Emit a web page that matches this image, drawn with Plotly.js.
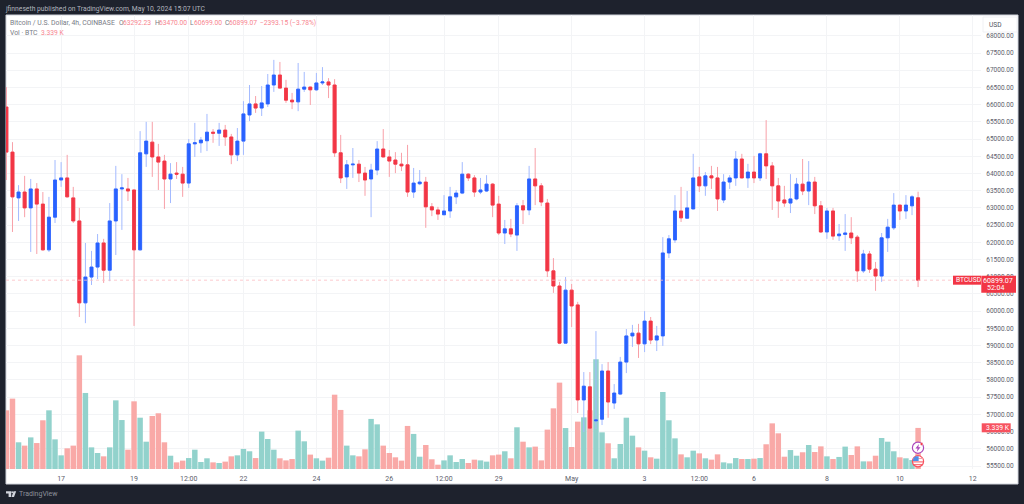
<!DOCTYPE html>
<html>
<head>
<meta charset="utf-8">
<script src="https://cdn.plot.ly/plotly-3.0.1.min.js"></script>
<style>html,body{margin:0;padding:0;background:#1e222d;overflow:hidden}#chart{width:1024px;height:504px}</style>
</head>
<body>
<div id="chart"></div>
<script>
var firstBar = '2024-04-15T12:00:00Z';
var barHours = 4;
var opens = [65930,64620,63290,63460,63000,63550,63110,61780,62730,63810,63870,63290,62620,60240,60990,61280,61980,61190,62620,63550,63550,63520,61780,64570,64910,64480,64360,63840,64010,63980,63720,64860,64890,64950,65200,65170,65260,65060,64540,64940,65700,66020,65900,66020,66570,66860,66480,66130,66080,66450,66510,66430,66630,66660,66570,64600,63900,64250,64270,64010,63840,64100,64710,64480,64390,64270,64250,63460,63700,63750,63030,62940,62800,62910,63320,63430,63980,63870,63460,63490,63690,63110,62270,62390,62210,63060,62940,63840,63640,63140,61170,60730,59070,60610,60180,57420,57800,56810,56860,58260,57330,57590,58520,59280,59360,59050,59710,59160,59280,61690,62070,62910,62700,62970,63900,63640,63930,63870,63230,63750,63870,64420,63870,64040,63870,64570,64220,63640,63230,63140,63260,63690,63490,63750,63060,62300,62910,62190,62230,62270,62150,61170,61660,61220,61020,62130,62420,63080,62910,63060,63292.23];
var highs = [66510,64910,63660,63930,63840,63720,63460,63320,64390,64330,64540,63610,63000,61980,61750,62240,62100,63140,64220,63980,63870,63530,65230,65500,65500,64860,64540,64300,64330,64190,65000,65470,65060,65730,65290,65470,65410,65150,65320,66100,66570,66250,66540,66890,67300,67240,66720,66340,67210,66950,66520,66920,67090,66770,66740,65120,64390,64740,64390,64190,64280,64940,65290,64680,64620,64600,64830,64160,64100,63900,63140,63030,63370,63610,63520,64330,64010,63950,63870,63950,63720,63350,62650,62680,63140,63230,64220,64740,63720,63260,61540,60850,60990,60790,60270,58230,58230,59420,58460,58520,57880,58670,59480,59600,59630,60000,59830,59570,62150,62210,63370,63610,63490,64570,64190,64040,64220,64190,63980,63950,64650,64570,64280,64510,64600,65550,64330,63870,63640,63980,63870,64420,64360,63900,63200,63000,63000,62530,62820,62730,62210,61780,61750,61430,62270,62680,63430,63090,63370,63370,63470];
var lows = [63810,62300,62620,62730,61720,61660,61760,61720,62560,63610,63300,62560,59830,59650,60760,60930,60820,60870,61630,62360,63200,59570,61760,64190,63900,63520,62970,63140,63840,63320,63580,64480,64600,64650,64890,64800,64800,64270,64360,64540,65520,65760,65670,65930,66370,66470,66050,65870,65810,66370,65990,66400,66570,66190,64480,63720,63550,63870,63750,63350,62730,63950,64470,63900,64010,64070,63320,63290,63660,62420,62760,62650,62790,62710,63110,63400,63780,63320,63400,63460,62730,62210,61950,62150,61750,62530,62790,63080,63050,60990,60530,59040,59060,59540,57040,56490,56570,56570,56690,56900,57160,57560,58200,58960,58640,58810,59040,58840,58990,61540,61980,62590,62690,62960,63460,63350,63550,62910,63140,63550,63640,63860,63580,63720,63780,63840,62940,62710,63030,62850,63220,63370,63080,62820,62270,62100,62070,62040,61750,61950,60850,61110,61110,60590,60850,61720,62360,62650,62680,62790,60699];
var closes = [64620,63320,63460,63000,63550,63110,61780,62730,63810,63870,63320,62620,60240,60990,61280,61980,61190,62620,63550,63580,63490,61780,64600,64940,64480,64330,63840,63980,63980,63720,64860,64890,64970,65200,65170,65260,65060,64540,64940,65730,66020,65900,66050,66570,66860,66480,66130,66080,66450,66510,66430,66630,66660,66570,64600,63870,64250,64270,64010,63810,64100,64710,64480,64360,64270,64220,63460,63720,63750,63030,62940,62820,62910,63320,63430,63980,63870,63460,63520,63690,63080,62270,62390,62240,63060,62940,63840,63640,63170,61170,60730,59070,60610,60150,57420,57820,56600,56840,58260,57360,57620,58520,59280,59360,59050,59710,59160,59280,61690,62100,62910,62710,63000,63870,63640,63930,63870,63260,63750,63870,64420,63870,64040,63870,64570,64220,63640,63200,63140,63260,63690,63490,63750,63060,62300,62910,62180,62240,62270,62130,61170,61660,61220,61020,62130,62440,63080,62910,63080,63320,60899.07];
var volumesK = [4.77,5.72,2.17,1.90,2.57,2.11,3.96,4.77,2.41,1.11,1.68,1.90,9.24,6.18,1.76,1.30,1.03,1.76,5.58,3.98,1.57,5.50,4.17,2.22,4.31,4.53,2.17,1.08,0.54,0.68,0.89,1.57,0.57,0.87,0.54,0.49,0.60,1.03,1.11,1.63,1.44,0.89,3.04,2.44,1.57,0.87,0.70,0.81,3.12,2.25,1.17,0.87,0.68,0.92,6.04,4.80,1.90,1.11,1.03,1.60,4.07,3.63,1.90,1.30,0.95,0.68,3.50,2.85,1.00,1.95,0.79,0.35,0.70,1.11,0.57,0.81,0.49,0.76,0.70,0.60,1.11,1.17,1.44,0.87,3.39,2.22,1.76,1.82,0.70,3.20,4.93,7.02,3.33,1.79,3.85,4.20,4.77,8.92,2.98,2.09,0.87,2.03,4.17,2.71,1.76,1.49,0.95,0.84,6.26,3.96,2.49,1.19,0.95,1.49,1.27,0.87,0.76,1.19,0.54,0.46,0.89,0.81,0.81,0.84,0.89,2.01,3.71,2.90,1.00,1.54,1.08,1.36,1.95,1.38,1.84,1.03,0.81,0.98,1.82,1.14,1.84,0.62,0.62,1.08,2.52,2.22,1.44,0.95,0.87,0.73,3.339];
var timeTickDates = ['2024-04-17','2024-04-19','2024-04-20T12:00:00','2024-04-22','2024-04-24','2024-04-26','2024-04-27T12:00:00','2024-04-29','2024-05-01','2024-05-03','2024-05-04T12:00:00','2024-05-06','2024-05-08','2024-05-10','2024-05-12'];
var timeTickLabels = ['17','19','12:00','22','24','26','12:00','29','May','3','12:00','6','8','10','12'];
var priceTicks = [55500,56000,56500,57000,57500,58000,58500,59000,59500,60000,60500,61000,61500,62000,62500,63000,63500,64000,64500,65000,65500,66000,66500,67000,67500,68000];
var headerText = 'jfinneseth published on TradingView.com, May 10, 2024 15:07 UTC';
var symbolText = 'Bitcoin / U.S. Dollar, 4h, COINBASE';
var ohlcKeys = ['O', 'H', 'L', 'C'];
var ohlcValues = ['63292.23', '63470.00', '60699.00', '60899.07'];
var changeText = '−2393.15 (−3.78%)';
var volumeName = 'Vol · BTC';
var lastPrice = '60899.07', countdown = '52:04', lastVol = '3.339 K', symbolTag = 'BTCUSD';

var RED = '#f23645', BLUE = '#2962ff', TEAL = '#92d2cc', SALMON = '#f9a9a7';
var WICK_RED = '#f8a0a8', WICK_BLUE = '#a3baff', GREY = '#787b86', SOFT = '#f7858f', AXIS = '#5d606b';

var dates = opens.map(function (_, i) {
  return new Date(Date.parse(firstBar) + i * barHours * 3600000).toISOString().slice(0, 19);
});
var rising = opens.map(function (o, i) { return closes[i] >= o; });
var bodyHigh = opens.map(function (o, i) { return Math.max(o, closes[i]); });
var bodyLow = opens.map(function (o, i) { return Math.min(o, closes[i]); });

var L = 6, R = 981, T = 15, B = 469;
function px(x) { return (x - L) / (R - L); }
function py(y) { return (B - y) / (B - T); }
function rect(x0, y0, x1, y1, fill, line, layer) {
  return {type: 'rect', xref: 'paper', yref: 'paper', x0: px(x0), x1: px(x1), y0: py(y0), y1: py(y1),
          fillcolor: fill, line: line || {width: 0}, layer: layer || 'below'};
}
function pathAt(d, fill) {
  var s = d.replace(/(-?[\d.]+),(-?[\d.]+)/g, function (m, a, b) { return px(+a).toFixed(5) + ',' + py(+b).toFixed(5); });
  return {type: 'path', xref: 'paper', yref: 'paper', path: s, fillcolor: fill, line: {width: 0}, layer: 'above'};
}
function circle(cx, cy, r, fill, line, w) {
  return {type: 'circle', xref: 'paper', yref: 'paper', x0: px(cx - r), x1: px(cx + r), y0: py(cy + r), y1: py(cy - r),
          fillcolor: fill, line: {color: line, width: w}, layer: 'above'};
}
function note(text, x, y, color, size) {
  return {text: text, xref: 'paper', yref: 'paper', x: px(x), y: py(y), xanchor: 'left', yanchor: 'middle',
          showarrow: false, align: 'left', borderpad: 0, borderwidth: 0, font: {family: 'Roboto', size: size, color: color}};
}

var traces = [
  {type: 'bar', x: dates, y: volumesK, yaxis: 'y', xaxis: 'x', hoverinfo: 'skip',
   marker: {color: rising.map(function (r) { return r ? TEAL : SALMON; }), line: {width: 0}}},
  {type: 'candlestick', x: dates, open: opens, high: highs, low: lows, close: closes, yaxis: 'y2', xaxis: 'x', hoverinfo: 'skip',
   increasing: {line: {color: WICK_BLUE, width: 1}, fillcolor: WICK_BLUE},
   decreasing: {line: {color: WICK_RED, width: 1}, fillcolor: WICK_RED}},
  {type: 'candlestick', x: dates, open: opens, high: bodyHigh, low: bodyLow, close: closes, yaxis: 'y2', xaxis: 'x', hoverinfo: 'skip',
   increasing: {line: {color: BLUE, width: 0.8}, fillcolor: BLUE},
   decreasing: {line: {color: RED, width: 0.8}, fillcolor: RED}}
];

var shapes = [
  rect(6, 15, 1018, 484, '#ffffff', {color: '#d1d4dc', width: 1}),
  {type: 'line', xref: 'paper', yref: 'y2', x0: 0, x1: 1, y0: closes[closes.length - 1], y1: closes[closes.length - 1],
   line: {color: '#fbbcc2', width: 0.8, dash: 'dot'}, layer: 'above'},
  rect(983, 17, 1017, 32, '#ffffff', {color: '#f0f1f4', width: 1}, 'above'),
  rect(953, 275.7, 981, 284.7, RED, null, 'above'),
  rect(981.3, 275.7, 1016, 292.7, RED, null, 'above'),
  rect(981.7, 423.3, 1010.7, 432.3, '#f7525f', null, 'above'),
  circle(918, 447.7, 5.6, '#ffffff', '#ab47bc', 1.2),
  pathAt('M 919,444 L 915.4,448.5 L 917.6,448.5 L 916.9,451.8 L 920.5,447.2 L 918.3,447.2 Z', '#ab47bc'),
  circle(921.6, 444, 1.4, '#f23645', '#ffffff', 0.4),
  circle(918, 461.3, 5.6, '#ffffff', '#f7525f', 1.2),
  pathAt('M 912.8,458 L 923.2,458 L 923.2,459 L 912.8,459 Z', '#f7a0a8'),
  pathAt('M 912.6,461.4 L 923.4,461.4 L 923.4,462.4 L 912.6,462.4 Z', '#f7525f'),
  pathAt('M 913.5,464.2 L 922.5,464.2 L 922.5,465.2 L 913.5,465.2 Z', '#f7525f'),
  pathAt('M 912.7,461 L 913.4,458 L 915.5,456.3 L 918.6,456.3 L 918.6,461 Z', '#4d8fe8'),
  pathAt('M 6,491.3 L 11.2,491.3 L 11.2,497 L 8.6,497 L 8.6,493.4 L 6,493.4 Z', '#d1d4dc'),
  pathAt('M 11.6,497 L 13.5,491.3 L 16.2,491.3 L 14,497 Z', '#d1d4dc'),
  circle(12.2, 492.2, 0.9, '#d1d4dc', '#d1d4dc', 0)
];

var keyX = [119, 155, 190, 225], valueX = [123, 159, 194, 229];
var annotations = [
  note(symbolText, 10, 23.5, GREY, 6.85),
  note(changeText, 259.5, 23.5, SOFT, 6.7),
  note(volumeName, 10, 33, GREY, 6.85),
  note(lastVol, 41, 33, SOFT, 6.7),
  note('USD', 989, 25, '#50535e', 6.6),
  note(symbolTag, 955.5, 280.4, '#ffffff', 6.7),
  note(lastPrice, 983, 280.8, '#ffffff', 7.1),
  note(countdown, 987, 288.2, '#ffffff', 7),
  note(lastVol, 986, 428, '#ffffff', 6.8),
  note('TradingView', 19, 494.2, '#8d909a', 7)
];
ohlcKeys.forEach(function (k, i) {
  annotations.push(note(k, keyX[i], 23.5, GREY, 6.7));
  annotations.push(note(ohlcValues[i], valueX[i], 23.5, SOFT, 6.7));
});

var layout = {
  width: 1024, height: 504,
  margin: {l: L, r: 1024 - R, t: T, b: 504 - B, pad: 0},
  paper_bgcolor: '#1e222d', plot_bgcolor: '#ffffff',
  showlegend: false, bargap: 0.1, dragmode: false,
  title: {text: headerText, xref: 'container', yref: 'container', x: 6 / 1024, xanchor: 'left', y: 1 - 8.3 / 504, yanchor: 'middle',
          font: {family: 'Roboto', size: 6.75, color: '#b2b5be'}, pad: {t: 0, b: 0, l: 0, r: 0}},
  xaxis: {type: 'date', range: ['2024-04-15 11:44', '2024-05-12 05:24'], rangeslider: {visible: false},
          tickmode: 'array', tickvals: timeTickDates, ticktext: timeTickLabels, tickangle: 0,
          showgrid: true, gridcolor: '#f3f4f6', gridwidth: 1, zeroline: false, showline: false,
          ticks: 'outside', ticklen: 3, tickcolor: 'rgba(0,0,0,0)', tickfont: {family: 'Roboto', size: 7, color: AXIS}},
  yaxis: {range: [0, 36.9], visible: false, showgrid: false, zeroline: false, fixedrange: true},
  yaxis2: {overlaying: 'y', side: 'right', range: [55413, 68604], tickmode: 'array', tickvals: priceTicks,
           ticktext: priceTicks.map(function (p) { return p.toFixed(2); }), showgrid: true, gridcolor: '#f3f4f6', gridwidth: 1,
           zeroline: false, showline: false, ticks: 'outside', ticklen: 3, tickcolor: 'rgba(0,0,0,0)',
           tickfont: {family: 'Roboto', size: 6.5, color: AXIS}},
  shapes: shapes, annotations: annotations
};
Plotly.newPlot('chart', traces, layout, {displayModeBar: false, staticPlot: true, responsive: false});
</script>
</body>
</html>
